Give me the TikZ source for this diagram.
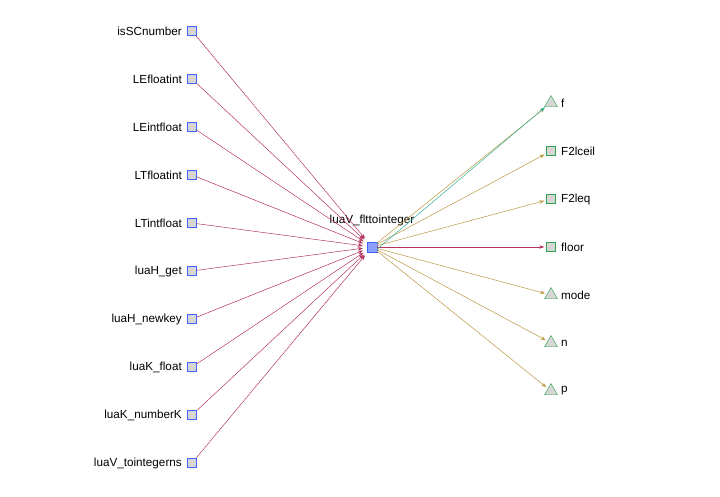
\documentclass[tikz,border=0pt]{standalone}
\usepackage{fontspec}
\setmainfont{Liberation Sans}
\usetikzlibrary{arrows.meta, shapes.geometric}
\definecolor{redge}{RGB}{181,52,96}
\definecolor{gedge}{RGB}{186,152,64}
\definecolor{tedge}{RGB}{48,176,150}
\definecolor{bline}{RGB}{64,96,255}
\definecolor{gline}{RGB}{48,160,80}
\definecolor{nfill}{RGB}{214,214,214}
\definecolor{cfill}{RGB}{140,160,255}

\begin{document}
\begin{tikzpicture}[x=1pt, y=-1pt, font=\fontsize{11.7}{14}\selectfont,
	fn/.style={draw=bline, fill=nfill, minimum size=9pt, inner sep=0pt},
	sq/.style={draw=gline, fill=nfill, minimum size=9pt, inner sep=0pt},
	tri/.style={draw=gline, fill=nfill, regular polygon, regular polygon sides=3, minimum size=15pt, inner sep=0pt},
	cn/.style={draw=bline, fill=cfill, minimum size=10pt, inner sep=0pt},
	edge/.style={-{Stealth[length=5pt, width=3.5pt]}, line width=0.5pt}]
	\useasboundingbox (0,0) rectangle (720,496);

	\node[cn, label={[label distance=12pt]above:luaV\_flttointeger}] (flt) at (372,247) {};

	\foreach \t [count=\i] in {isSCnumber, LEfloatint, LEintfloat, LTfloatint, LTintfloat,
		luaH\_get, luaH\_newkey, luaK\_float, luaK\_numberK, luaV\_tointegerns}
	{
		\node[fn, label={[label distance=2pt]left:\t}] (in\i) at (192, {31+48*(\i-1)}) {};
		\draw[edge, redge, shorten >=4pt] (in\i) -- (flt);
	}

	\foreach \t/\s/\c [count=\i] in {f/tri/gedge, F2lceil/sq/gedge, F2leq/sq/gedge, floor/sq/redge,
		mode/tri/gedge, n/tri/gedge, p/tri/gedge}
	{
		\node[\s, label={[label distance=2pt]right:\t}] (out\i) at (551, {103+48*(\i-1)}) {};
		\draw[edge, \c, shorten >=2pt] (flt) -- (out\i);
	}
	\draw[edge, tedge, shorten >=2pt] ([yshift=-2pt]flt.east) -- ([yshift=-3pt]out1.west);
\end{tikzpicture}
\end{document}
